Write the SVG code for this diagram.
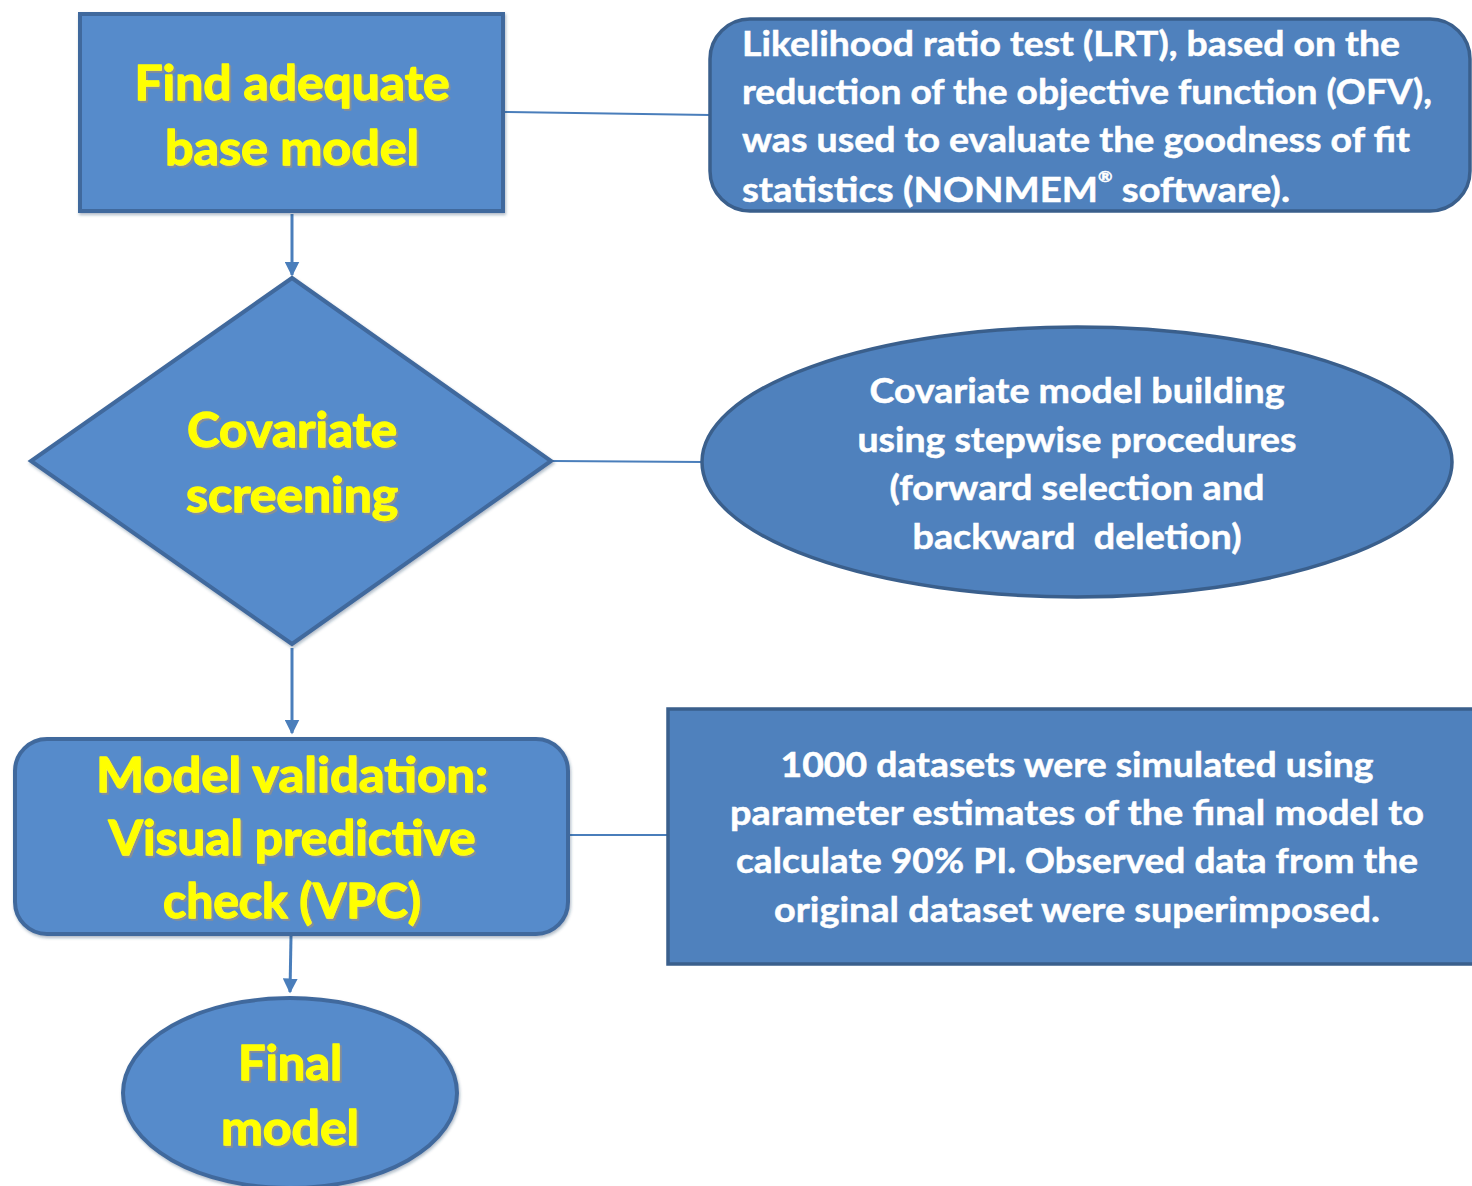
<svg xmlns="http://www.w3.org/2000/svg" width="1472" height="1186" viewBox="0 0 1472 1186">
  <defs>
    <style>
      .main { fill: #578BCB; stroke: #41699D; stroke-width: 4; filter: url(#soft); }
      .note { fill: #4F81BD; stroke: #3A5F8C; stroke-width: 3.5; }
      .title { font-family: Lato, "Open Sans", "Liberation Sans", sans-serif; font-weight: 700; font-size: 48px; fill: #FFFF00; stroke: #FFFF00; stroke-width: 1.3; stroke-linejoin: round; text-anchor: middle; filter: url(#txtshadow); }
      .body { font-family: Lato, "Open Sans", "Liberation Sans", sans-serif; font-weight: 700; font-size: 35px; fill: #FFFFFF; stroke: #FFFFFF; stroke-width: 0.5; }
      .mid { text-anchor: middle; }
      .link { stroke: #4A7EBB; stroke-width: 2; fill: none; }
      .flow { stroke: #4A7EBB; stroke-width: 3; fill: none; marker-end: url(#head); }
    </style>
    <marker id="head" viewBox="0 0 10 10" refX="9" refY="5" markerWidth="5" markerHeight="5" orient="auto" markerUnits="strokeWidth">
      <path d="M0,0 L10,5 L0,10 z" fill="#4A7EBB"/>
    </marker>
    <filter id="txtshadow" x="-10%" y="-20%" width="120%" height="150%">
      <feDropShadow dx="2" dy="2" stdDeviation="0.6" flood-color="#8E8E8E" flood-opacity="0.9"/>
    </filter>
    <filter id="soft" x="-5%" y="-5%" width="110%" height="110%">
      <feDropShadow dx="1" dy="2" stdDeviation="1.5" flood-color="#1E3A5F" flood-opacity="0.35"/>
    </filter>
  </defs>

  <!-- connectors -->
  <g id="connectors">
    <line class="link" x1="505" y1="112" x2="710" y2="115"/>
    <line class="link" x1="553" y1="461" x2="702" y2="462"/>
    <line class="link" x1="570" y1="835" x2="668" y2="835"/>
    <line class="flow" x1="292" y1="214" x2="292" y2="275"/>
    <line class="flow" x1="292" y1="648" x2="292" y2="733"/>
    <line class="flow" x1="291" y1="936" x2="290" y2="992"/>
  </g>

  <!-- start: base model -->
  <g id="base-model">
    <rect class="main" x="80" y="14" width="423" height="197"/>
    <text class="title" x="292" y="100" textLength="315" lengthAdjust="spacingAndGlyphs">Find adequate</text>
    <text class="title" x="292" y="165" textLength="254" lengthAdjust="spacingAndGlyphs">base model</text>
  </g>

  <!-- note: LRT -->
  <g id="lrt-note">
    <rect class="note" x="710" y="19" width="760" height="192" rx="40" ry="40"/>
    <text class="body" x="742" y="56" textLength="658" lengthAdjust="spacingAndGlyphs">Likelihood ratio test (LRT), based on the</text>
    <text class="body" x="742" y="104" textLength="690" lengthAdjust="spacingAndGlyphs">reduction of the objective function (OFV),</text>
    <text class="body" x="742" y="152" textLength="668" lengthAdjust="spacingAndGlyphs">was used to evaluate the goodness of fit</text>
    <text class="body" x="742" y="202" textLength="548" lengthAdjust="spacingAndGlyphs">statistics (NONMEM<tspan font-size="16" dy="-20">®</tspan><tspan dy="20"> software).</tspan></text>
  </g>

  <!-- decision: covariate screening -->
  <g id="covariate-screening">
    <polygon class="main" points="292,278 551,461 292,644 31,461"/>
    <text class="title" x="292" y="447" textLength="210" lengthAdjust="spacingAndGlyphs">Covariate</text>
    <text class="title" x="292" y="512" textLength="212" lengthAdjust="spacingAndGlyphs">screening</text>
  </g>

  <!-- note: stepwise -->
  <g id="stepwise-note">
    <ellipse class="note" cx="1077" cy="462" rx="375" ry="135"/>
    <text class="body mid" x="1077" y="403" textLength="415" lengthAdjust="spacingAndGlyphs">Covariate model building</text>
    <text class="body mid" x="1077" y="452" textLength="439" lengthAdjust="spacingAndGlyphs">using stepwise procedures</text>
    <text class="body mid" x="1077" y="500" textLength="375" lengthAdjust="spacingAndGlyphs">(forward selection and</text>
    <text class="body mid" x="1077" y="549" textLength="329" lengthAdjust="spacingAndGlyphs" xml:space="preserve">backward  deletion)</text>
  </g>

  <!-- process: model validation -->
  <g id="model-validation">
    <rect class="main" x="15" y="739" width="553" height="195" rx="32" ry="32"/>
    <text class="title" x="292" y="792" textLength="392" lengthAdjust="spacingAndGlyphs">Model validation:</text>
    <text class="title" x="292" y="855" textLength="367" lengthAdjust="spacingAndGlyphs">Visual predictive</text>
    <text class="title" x="292" y="918" textLength="258" lengthAdjust="spacingAndGlyphs">check (VPC)</text>
  </g>

  <!-- note: VPC -->
  <g id="vpc-note">
    <rect class="note" x="668" y="709" width="810" height="255"/>
    <text class="body mid" x="1077" y="777" textLength="593" lengthAdjust="spacingAndGlyphs">1000 datasets were simulated using</text>
    <text class="body mid" x="1077" y="825" textLength="694" lengthAdjust="spacingAndGlyphs">parameter estimates of the final model to</text>
    <text class="body mid" x="1077" y="873" textLength="682" lengthAdjust="spacingAndGlyphs">calculate 90% PI. Observed data from the</text>
    <text class="body mid" x="1077" y="922" textLength="606" lengthAdjust="spacingAndGlyphs">original dataset were superimposed.</text>
  </g>

  <!-- end: final model -->
  <g id="final-model">
    <ellipse class="main" cx="290" cy="1093" rx="167" ry="95"/>
    <text class="title" x="290" y="1080" textLength="104" lengthAdjust="spacingAndGlyphs">Final</text>
    <text class="title" x="290" y="1145" textLength="138" lengthAdjust="spacingAndGlyphs">model</text>
  </g>
</svg>
